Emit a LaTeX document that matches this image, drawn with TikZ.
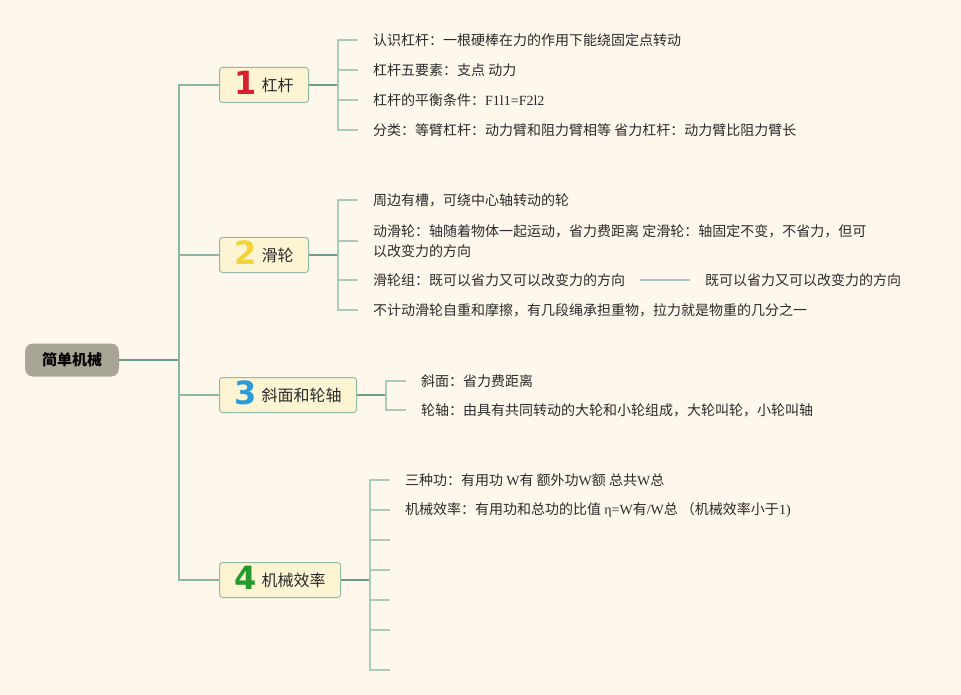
\documentclass[tikz,border=0pt]{standalone}
\usepackage{fontspec}
\setmainfont{Noto Sans CJK SC}
\newfontfamily\latfont{Liberation Serif}
\newfontfamily\digfont{DejaVu Sans}
\usepackage{xcolor}
\usetikzlibrary{calc,positioning}

\definecolor{bgcream}{HTML}{FEF8EC}
\definecolor{rootfill}{HTML}{A8A496}
\definecolor{boxfill}{HTML}{FDF4D3}
\definecolor{boxline}{HTML}{93B9A6}
\definecolor{linedark}{HTML}{6E9E8B}
\definecolor{linemid}{HTML}{8DB6A4}
\definecolor{linelight}{HTML}{A9C9BA}
\definecolor{textdark}{HTML}{2B2B2B}
\definecolor{numred}{HTML}{D8202C}
\definecolor{numyellow}{HTML}{F2D43A}
\definecolor{numblue}{HTML}{2B9BD8}
\definecolor{numgreen}{HTML}{25992B}

\newcommand{\numtag}[2]{\smash{\raisebox{-3pt}{\textcolor{#1}{\digfont\bfseries\fontsize{32}{32}\selectfont #2}}}\hspace{5pt}}

\tikzset{
  rootbox/.style={fill=rootfill, rounded corners=8pt, minimum width=94pt, minimum height=33pt,
    font=\bfseries\fontsize{15}{17}\selectfont, text=black},
  branchbox/.style={draw=boxline, fill=boxfill, rounded corners=3pt, line width=1pt,
    minimum height=35pt, inner xsep=14pt, anchor=west, font=\fontsize{16}{18}\selectfont, text=textdark},
  leaf/.style={anchor=west, inner xsep=15pt, inner ysep=0pt, align=left,
    font=\fontsize{14}{20}\selectfont, text=textdark},
  mainline/.style={draw=linedark, line width=2pt},
  trunkline/.style={draw=linemid, line width=1.8pt},
  subline/.style={draw=linelight, line width=1.5pt}
}

\begin{document}
\begin{tikzpicture}[x=1pt,y=-1pt]
		\fill[bgcream] (0,0) rectangle (961,695);
		\useasboundingbox (0,0) rectangle (961,695);
		
		% root and trunk
		\node[rootbox] (root) at (72,360) {简单机械};
		\coordinate (trunk) at (179,360);
		
		\node[branchbox, minimum width=89pt] (lever) at (219,85) {\numtag{numred}{1}杠杆};
		\node[branchbox, minimum width=89pt] (pulley) at (219,255) {\numtag{numyellow}{2}滑轮};
		\node[branchbox, minimum width=137pt] (slope) at (219,395) {\numtag{numblue}{3}斜面和轮轴};
		\node[branchbox, minimum width=121pt] (effic) at (219,580) {\numtag{numgreen}{4}机械效率};
		
		\draw[mainline] (root.east) -- (trunk);
		\foreach \b in {lever,pulley,slope,effic}
		\draw[trunkline] (trunk) |- (\b.west);
		
		% lever
		\coordinate (leverbk) at (338,85);
		\draw[mainline] (lever.east) -- (leverbk);
		\node[leaf] (lever1) at (358,40) {认识杠杆：一根硬棒在力的作用下能绕固定点转动};
		\node[leaf] (lever2) at (358,70) {杠杆五要素：支点 动力};
		\node[leaf] (lever3) at (358,100) {杠杆的平衡条件：{\latfont F1l1=F2l2}};
		\node[leaf] (lever4) at (358,130) {分类：等臂杠杆：动力臂和阻力臂相等 省力杠杆：动力臂比阻力臂长};
		\foreach \l in {lever1,lever2,lever3,lever4}
		\draw[subline] (leverbk) |- (\l.west);
		
		% pulley
		\coordinate (pulleybk) at (338,255);
		\draw[mainline] (pulley.east) -- (pulleybk);
		\node[leaf] (pulley1) at (358,200) {周边有槽，可绕中心轴转动的轮};
		\node[leaf] (pulley2) at (358,241) {动滑轮：轴随着物体一起运动，省力费距离 定滑轮：轴固定不变，不省力，但可\\以改变力的方向};
		\node[leaf] (pulley3) at (358,280) {滑轮组：既可以省力又可以改变力的方向};
		\node[leaf] (pulley4) at (358,310) {不计动滑轮自重和摩擦，有几段绳承担重物，拉力就是物重的几分之一};
		\foreach \l in {pulley1,pulley2,pulley3,pulley4}
		\draw[subline] (pulleybk) |- (\l.west);
		\node[leaf] (pulley3b) at (690,280) {既可以省力又可以改变力的方向};
		\coordinate (pulley3e) at (640,280);
		\draw[subline] (pulley3e) -- (pulley3b.west);
		
		% slope and wheel
		\coordinate (slopebk) at (386,395);
		\draw[mainline] (slope.east) -- (slopebk);
		\node[leaf] (slope1) at (406,381) {斜面：省力费距离};
		\node[leaf] (slope2) at (406,410) {轮轴：由具有共同转动的大轮和小轮组成，大轮叫轮，小轮叫轴};
		\foreach \l in {slope1,slope2}
		\draw[subline] (slopebk) |- (\l.west);
		
		% efficiency
		\coordinate (efficbk) at (370,580);
		\draw[mainline] (effic.east) -- (efficbk);
		\node[leaf] (effic1) at (390,480) {三种功：有用功 {\latfont W}有 额外功{\latfont W}额 总共{\latfont W}总};
		\node[leaf] (effic2) at (390,510) {机械效率：有用功和总功的比值 {\latfont η=W}有{\latfont /W}总 （机械效率小于{\latfont 1)}};
		\foreach \y [count=\i from 3] in {540,570,600,630,670}
		\coordinate (effic\i) at (390,\y);
		\foreach \l in {effic1,effic2,effic3,effic4,effic5,effic6,effic7}
		\draw[subline] (efficbk) |- (\l.west);
\end{tikzpicture}
\end{document}
